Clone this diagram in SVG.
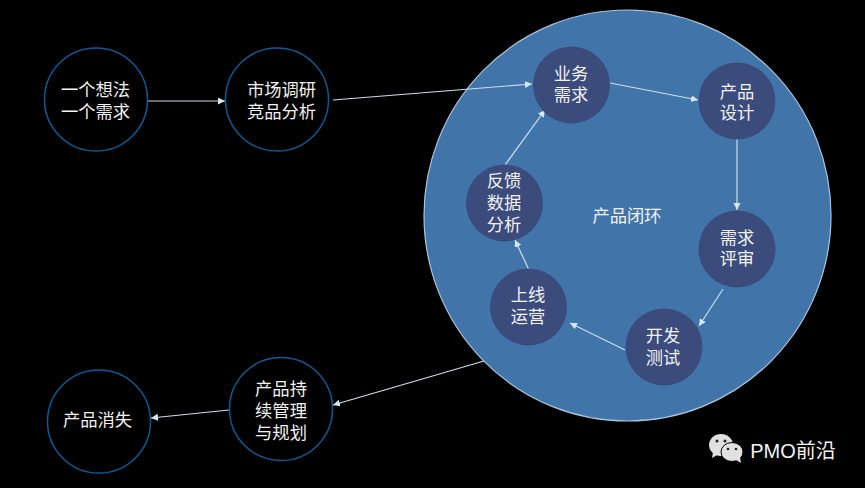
<svg xmlns="http://www.w3.org/2000/svg" width="865" height="488" viewBox="0 0 865 488">
<style>
text{font-family:"Liberation Sans","Noto Sans CJK SC",sans-serif;font-size:17.300px;fill:#f2f2f2;text-anchor:middle}
.o{fill:none;stroke:#0b5a96;stroke-width:1.5}
.i{fill:#3a4b7c}
.c line{stroke:#c9dfe8;stroke-width:1.2;marker-end:url(#a)}
</style>
<defs>
<marker id="a" markerUnits="userSpaceOnUse" markerWidth="8" markerHeight="8" refX="7" refY="3.5" orient="auto"><path d="M0 0L7 3.5L0 7z" fill="#d5e8f0"/></marker>
</defs>
<rect width="865" height="488" fill="#000"/>
<g id="loop"><ellipse cx="627.500" cy="215.500" rx="203.500" ry="205.500" fill="#4175aa" stroke="#a9c5dc" stroke-width="1.200"/><text x="627" y="222">产品闭环</text></g>
<g class="c">
<line x1="148" y1="101" x2="225" y2="101"/>
<line x1="333" y1="100" x2="532" y2="84"/>
<line x1="610" y1="83" x2="698" y2="100"/>
<line x1="737" y1="138" x2="737" y2="210"/>
<line x1="723" y1="289" x2="699" y2="326"/>
<line x1="625" y1="350" x2="570" y2="323"/>
<line x1="529" y1="270" x2="515" y2="240"/>
<line x1="505" y1="165" x2="545" y2="110"/>
<line x1="484" y1="361" x2="333" y2="405"/>
<line x1="229" y1="410" x2="151" y2="418"/>
</g>
<g id="n1"><circle class="o" cx="96" cy="99.500" r="51.500"/><text x="95.500" y="96">一个想法</text><text x="95.500" y="118">一个需求</text></g>
<g id="n2"><circle class="o" cx="277" cy="99.500" r="51.500"/><text x="281.500" y="96">市场调研</text><text x="281.500" y="118">竞品分析</text></g>
<g id="n3"><circle class="i" cx="571.500" cy="85" r="38.500"/><text x="571" y="80">业务</text><text x="571" y="101">需求</text></g>
<g id="n4"><circle class="i" cx="737" cy="101" r="38.500"/><text x="737" y="98">产品</text><text x="737" y="119">设计</text></g>
<g id="n5"><circle class="i" cx="737" cy="249" r="38.500"/><text x="737" y="244">需求</text><text x="737" y="265">评审</text></g>
<g id="n6"><circle class="i" cx="664" cy="347" r="38.500"/><text x="663" y="342">开发</text><text x="663" y="364">测试</text></g>
<g id="n7"><circle class="i" cx="528.500" cy="307" r="38.500"/><text x="528" y="301">上线</text><text x="528" y="323">运营</text></g>
<g id="n8"><circle class="i" cx="504.500" cy="203" r="38.500"/><text x="504" y="187">反馈</text><text x="504" y="209">数据</text><text x="504" y="231">分析</text></g>
<g id="n9"><circle class="o" cx="281" cy="409" r="51.500"/><text x="281" y="395">产品持</text><text x="281" y="417">续管理</text><text x="281" y="439">与规划</text></g>
<g id="n10"><circle class="o" cx="99" cy="421.500" r="51.500"/><text x="97.500" y="426">产品消失</text></g>
<g id="watermark">
<ellipse cx="721" cy="445" rx="12" ry="11" fill="#e0e0e0"/><path d="M713 452L712 458L719 454z" fill="#e0e0e0"/>
<ellipse cx="732" cy="452" rx="11" ry="9.500" fill="#e0e0e0" stroke="#000" stroke-width="1"/><path d="M736 460L741 463L740 457z" fill="#e0e0e0"/>
<circle cx="717" cy="441" r="1.500" fill="#222"/><circle cx="725" cy="441" r="1.500" fill="#222"/><circle cx="728" cy="449" r="1.300" fill="#222"/><circle cx="736" cy="449" r="1.300" fill="#222"/>
<text x="793" y="458" style="font-size:20px">PMO前沿</text>
</g>
</svg>
